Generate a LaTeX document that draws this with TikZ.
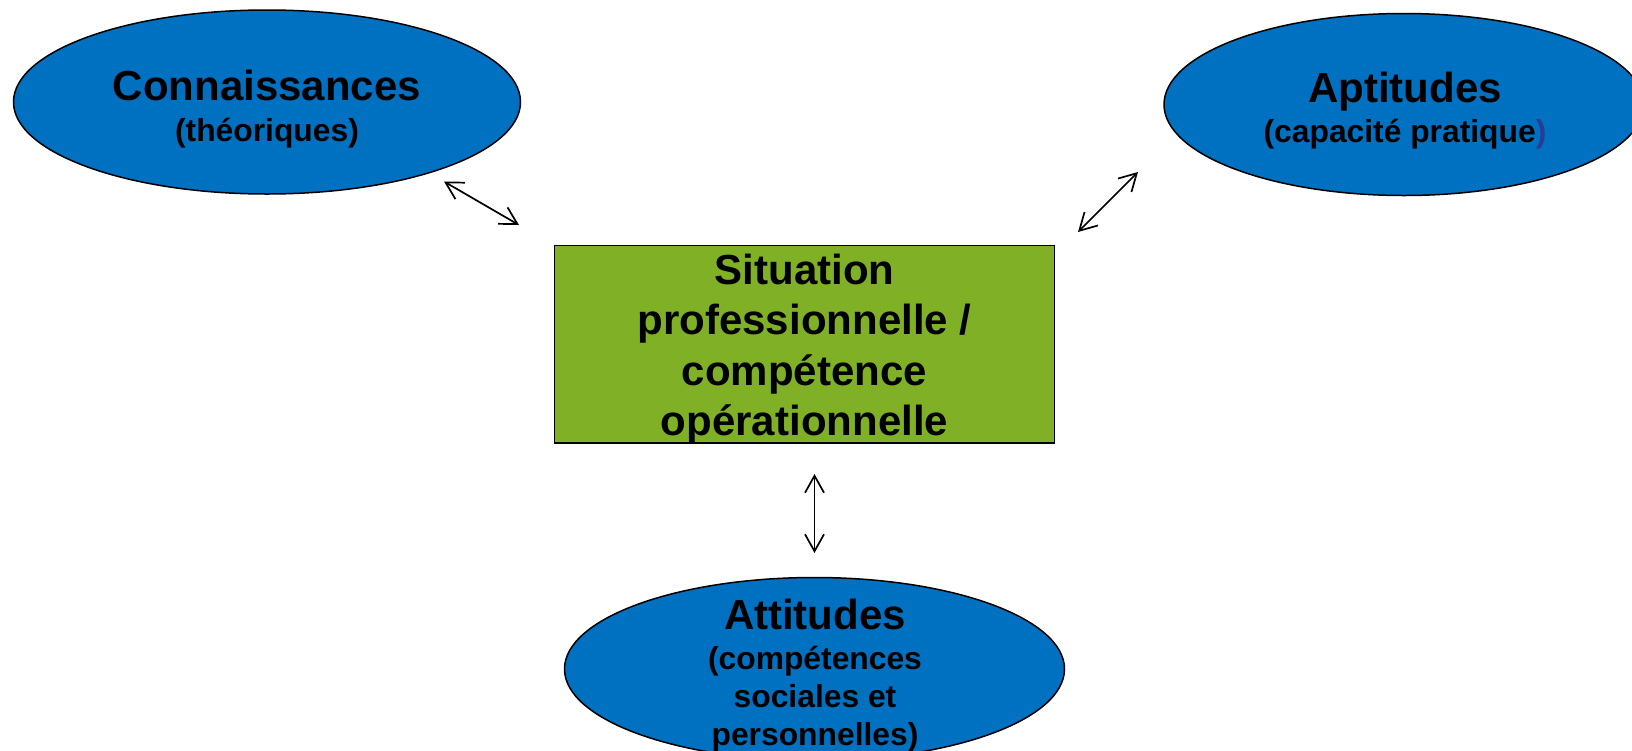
\documentclass[tikz,border=0pt]{standalone}
\usepackage{fontspec}
\setmainfont{Liberation Sans}
\usetikzlibrary{arrows.meta,shapes.geometric}
\definecolor{ellblue}{RGB}{0,112,192}
\definecolor{boxgreen}{RGB}{128,176,38}
\definecolor{parblue}{RGB}{40,60,150}
\tikzset{
  ell/.style={ellipse, draw=black, line width=1.5pt, fill=ellblue, inner sep=0pt},
  sitbox/.style={rectangle, draw=black, line width=1.5pt, fill=boxgreen, inner sep=0pt},
  bigtxt/.style={font=\fontsize{42}{50.5}\selectfont\bfseries, inner sep=0pt, anchor=base},
  subtxt/.style={font=\fontsize{31.8}{38}\selectfont\bfseries, inner sep=0pt, anchor=base},
  arr/.style={line width=1.7pt, {Straight Barb[length=17pt,width=19pt]}-{Straight Barb[length=17pt,width=19pt]}}
}
\begin{document}
\begin{tikzpicture}[x=1pt,y=-1pt]
\clip (0,0) rectangle (1632,750);
\fill[white] (0,0) rectangle (1632,750);
% shapes
\node[ell, minimum width=507pt, minimum height=184pt] (conn) at (267,102) {};
\node[ell, minimum width=480pt, minimum height=182pt] (apt) at (1404,104.5) {};
\node[ell, minimum width=500pt, minimum height=183pt] (att) at (814.5,669) {};
\node[sitbox, minimum width=500pt, minimum height=197.5pt] (sit) at (804.5,344.25) {};
% texts
\node[bigtxt] (conn-t) at (267,100.5) {Connaissances};
\node[subtxt] (conn-s) at (267,141) {(théoriques)};
\node[bigtxt] (apt-t) at (1405,102) {Aptitudes};
\node[subtxt] (apt-s) at (1405,142) {(capacité pratique\textcolor{parblue}{)}};
\node[bigtxt] (sit-t) at (804.5,284.3) {\begin{tabular}[t]{@{}c@{}}Situation\\professionnelle /\\compétence\\opérationnelle\end{tabular}};
\node[bigtxt] (att-t) at (815,629) {Attitudes};
\node[subtxt] (att-s) at (815,669) {\begin{tabular}[t]{@{}c@{}}(compétences\\sociales et\\personnelles)\end{tabular}};
% connector ends
\coordinate (c1a) at (444,181.5);
\coordinate (c1b) at (519,225);
\coordinate (c2a) at (1138,172);
\coordinate (c2b) at (1078,232);
\coordinate (c3a) at (814.5,474);
\coordinate (c3b) at (814.5,553);
\draw[arr] (c1a) -- (c1b);
\draw[arr] (c2a) -- (c2b);
\draw[arr] (c3a) -- (c3b);
\end{tikzpicture}
\end{document}
